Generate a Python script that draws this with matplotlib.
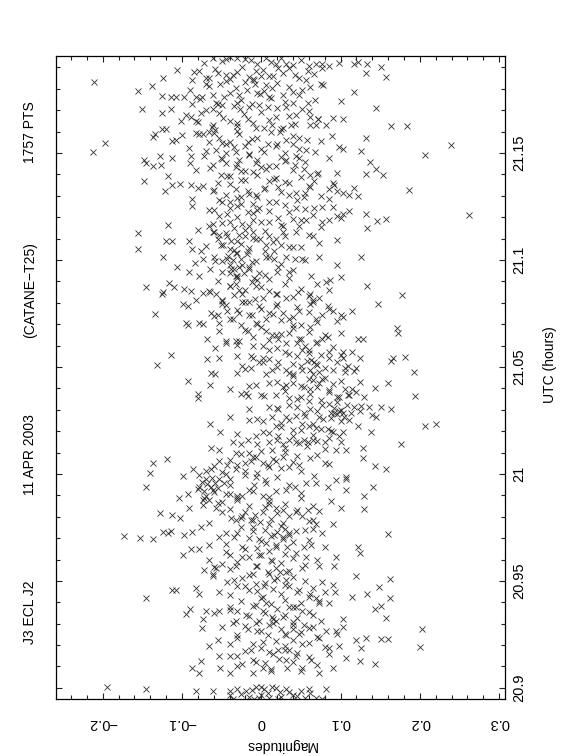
import matplotlib
matplotlib.use("Agg")
import matplotlib.pyplot as plt
from matplotlib import font_manager
from matplotlib.ticker import MultipleLocator

# J3 ECL J2 light curve, 11 APR 2003 (CATANE-T25), 1757 pts.
# Page is a landscape PGPLOT plot turned 90 degrees: UTC runs upward.

utc = [
    21.1921, 21.1946, 21.1941, 21.1946, 21.1937, 21.1946, 21.1918, 21.1914, 21.1933, 21.1918,
    21.1914, 21.1908, 21.1921, 21.1914, 21.1927, 21.1914, 21.1902, 21.1883, 21.1889, 21.1875,
    21.1879, 21.1856, 21.1860, 21.1860, 21.1898, 21.1864, 21.1883, 21.1898, 21.1875, 21.1850,
    21.1864, 21.1902, 21.1883, 21.1898,
    21.1831, 21.1789, 21.1812, 21.1850, 21.1768, 21.1764, 21.1760, 21.1764, 21.1841, 21.1760,
    21.1754, 21.1821, 21.1773, 21.1825, 21.1764, 21.1802, 21.1773, 21.1831, 21.1825, 21.1779,
    21.1818, 21.1806, 21.1773, 21.1787, 21.1793, 21.1841, 21.1825, 21.1818, 21.1744, 21.1787,
    21.1710, 21.1856, 21.1844, 21.1841, 21.1735, 21.1735, 21.1764, 21.1735, 21.1735,
    21.1706, 21.1687, 21.1706, 21.1652, 21.1668, 21.1648, 21.1687, 21.1706, 21.1687, 21.1648,
    21.1706, 21.1716, 21.1725, 21.1716, 21.1668, 21.1716, 21.1677, 21.1706, 21.1668, 21.1658,
    21.1664, 21.1658, 21.1658, 21.1729, 21.1725, 21.1629, 21.1639, 21.1619, 21.1629, 21.1619,
    21.1629, 21.1629, 21.1629, 21.1629,
    21.1504, 21.1548, 21.1575, 21.1587, 21.1614, 21.1614, 21.1556, 21.1562, 21.1523, 21.1485,
    21.1594, 21.1591, 21.1552, 21.1610, 21.1571, 21.1543, 21.1552, 21.1591, 21.1552, 21.1571,
    21.1543, 21.1600, 21.1562, 21.1543, 21.1571, 21.1514, 21.1504, 21.1581, 21.1529, 21.1518,
    21.1510, 21.1571, 21.1625, 21.1625, 21.1537, 21.1491, 21.1504, 21.1494, 21.1504, 21.1533,
    21.1514, 21.1600,
    21.1466, 21.1452, 21.1441, 21.1446, 21.1485, 21.1475, 21.1421, 21.1485, 21.1446, 21.1475,
    21.1452, 21.1394, 21.1437, 21.1466, 21.1418, 21.1452, 21.1398, 21.1427, 21.1441, 21.1466,
    21.1446, 21.1475, 21.1427, 21.1398, 21.1408, 21.1408, 21.1402, 21.1456, 21.1427, 21.1398,
    21.1369, 21.1394, 21.1398, 21.1485, 21.1379, 21.1466,
    21.1321, 21.1350, 21.1356, 21.1350, 21.1287, 21.1344, 21.1360, 21.1279, 21.1302, 21.1331,
    21.1293, 21.1321, 21.1302, 21.1331, 21.1369, 21.1341, 21.1302, 21.1312, 21.1293, 21.1369,
    21.1331, 21.1350, 21.1321, 21.1312, 21.1302, 21.1298, 21.1337, 21.1325, 21.1273, 21.1375,
    21.1321, 21.1273, 21.1264, 21.1360, 21.1341,
    21.1164, 21.1254, 21.1235, 21.1206, 21.1216, 21.1254, 21.1225, 21.1187, 21.1235, 21.1241,
    21.1177, 21.1196, 21.1225, 21.1244, 21.1158, 21.1241, 21.1177, 21.1248, 21.1187, 21.1196,
    21.1216, 21.1229, 21.1216, 21.1152, 21.1183, 21.1193, 21.1212, 21.1168, 21.1177, 21.1168,
    21.1158, 21.1187,
    21.1125, 21.1052, 21.1087, 21.1087, 21.1087, 21.1052, 21.1139, 21.1043, 21.1158, 21.1129,
    21.1119, 21.1071, 21.1110, 21.1052, 21.1091, 21.1110, 21.1043, 21.1129, 21.1100, 21.1071,
    21.1110, 21.1100, 21.1129, 21.1071, 21.1062, 21.1129, 21.1062, 21.1110, 21.1081, 21.1094,
    21.1043, 21.1033,
    21.1014, 21.0966, 21.0946, 21.0985, 21.0927, 21.1004, 21.0994, 21.0994, 21.1004, 21.0956,
    21.0956, 21.0927, 21.0975, 21.0966, 21.0994, 21.0937, 21.1014, 21.1004, 21.0966, 21.1014,
    21.0946, 21.1004, 21.1004, 21.0927, 21.1014, 21.0975, 21.0921, 21.1014, 21.0918, 21.0937,
    21.0875, 21.0841, 21.0850, 21.0894, 21.0875, 21.0864, 21.0856, 21.0812, 21.0844, 21.0856,
    21.0841, 21.0812, 21.0879, 21.0889, 21.0841, 21.0802, 21.0879, 21.0908, 21.0856, 21.0841,
    21.0821, 21.0918, 21.0850, 21.0841, 21.0821, 21.0812, 21.0898, 21.0908, 21.0879, 21.0837,
    21.0793, 21.0793, 21.0783, 21.0860, 21.0821,
    21.0750, 21.0706, 21.0696, 21.0706, 21.0702, 21.0754, 21.0744, 21.0706, 21.0764, 21.0725,
    21.0754, 21.0696, 21.0744, 21.0706, 21.0783, 21.0725, 21.0754, 21.0783, 21.0754, 21.0725,
    21.0696, 21.0764, 21.0793, 21.0802, 21.0725, 21.0744, 21.0783, 21.0764, 21.0735, 21.0741,
    21.0760, 21.0683, 21.0658, 21.0802, 21.0793,
    21.0556, 21.0629, 21.0591, 21.0668, 21.0610, 21.0620, 21.0620, 21.0668, 21.0600, 21.0600,
    21.0668, 21.0648, 21.0648, 21.0629, 21.0610, 21.0658, 21.0629, 21.0687, 21.0610, 21.0629,
    21.0639, 21.0571, 21.0568, 21.0571, 21.0633, 21.0629, 21.0552, 21.0552, 21.0581, 21.0562,
    21.0581,
    21.0510, 21.0433, 21.0537, 21.0471, 21.0466, 21.0543, 21.0471, 21.0504, 21.0495, 21.0523,
    21.0523, 21.0466, 21.0485, 21.0523, 21.0485, 21.0466, 21.0504, 21.0533, 21.0523, 21.0514,
    21.0485, 21.0475, 21.0485, 21.0543, 21.0495, 21.0479, 21.0495, 21.0543, 21.0529, 21.0543,
    21.0548, 21.0475, 21.0543,
    21.0375, 21.0356, 21.0414, 21.0398, 21.0375, 21.0379, 21.0364, 21.0418, 21.0364, 21.0427,
    21.0370, 21.0408, 21.0418, 21.0427, 21.0408, 21.0398, 21.0437, 21.0427, 21.0446, 21.0394,
    21.0360, 21.0368, 21.0370, 21.0398, 21.0360, 21.0402, 21.0427, 21.0364, 21.0360, 21.0356,
    21.0235, 21.0268, 21.0302, 21.0248, 21.0264, 21.0302, 21.0264, 21.0254, 21.0273, 21.0283,
    21.0302, 21.0264, 21.0321, 21.0283, 21.0287, 21.0293, 21.0283, 21.0264, 21.0254, 21.0312,
    21.0318, 21.0312, 21.0264, 21.0312, 21.0302, 21.0225, 21.0235, 21.0254, 21.0312, 21.0225,
    21.0321, 21.0235,
    21.0196, 21.0148, 21.0139, 21.0158, 21.0177, 21.0196, 21.0148, 21.0177, 21.0139, 21.0158,
    21.0148, 21.0158, 21.0148, 21.0158, 21.0216, 21.0148, 21.0210, 21.0202, 21.0110, 21.0177,
    21.0196, 21.0110, 21.0225, 21.0120, 21.0196, 21.0139, 21.0120, 21.0110, 21.0206,
    21.0052, 21.0004, 21.0068, 20.9991, 21.0023, 20.9995, 21.0014, 21.0023, 21.0062, 21.0010,
    21.0043, 21.0043, 21.0014, 21.0062, 21.0081, 21.0052, 21.0033, 21.0062, 21.0081, 21.0033,
    21.0043, 21.0075, 20.9991, 21.0052, 20.9985, 21.0075, 21.0037, 21.0023, 21.0100, 21.0100,
    21.0110,
    20.9937, 20.9889, 20.9908, 20.9937, 20.9918, 20.9898, 20.9879, 20.9927, 20.9975, 20.9956,
    20.9908, 20.9889, 20.9898, 20.9927, 20.9946, 20.9898, 20.9956, 20.9918, 20.9927, 20.9937,
    20.9889, 20.9956, 20.9956, 20.9941, 20.9971, 20.9975, 20.9927, 20.9898, 20.9937, 20.9975,
    20.9985,
    20.9818, 20.9806, 20.9793, 20.9841, 20.9856, 20.9773, 20.9841, 20.9821, 20.9793, 20.9783,
    20.9802, 20.9787, 20.9783, 20.9821, 20.9860, 20.9841, 20.9831, 20.9821, 20.9802, 20.9831,
    20.9783, 20.9825, 20.9875, 20.9841, 20.9837, 20.9764, 20.9764, 20.9870, 20.9879,
    20.9712, 20.9700, 20.9694, 20.9729, 20.9725, 20.9735, 20.9716, 20.9729, 20.9754, 20.9668,
    20.9706, 20.9725, 20.9706, 20.9754, 20.9735, 20.9696, 20.9677, 20.9716, 20.9706, 20.9725,
    20.9735, 20.9658, 20.9744, 20.9725, 20.9721, 20.9648, 20.9648, 20.9658, 20.9658,
    20.9619, 20.9552, 20.9600, 20.9562, 20.9581, 20.9619, 20.9571, 20.9610, 20.9571, 20.9619,
    20.9591, 20.9543, 20.9543, 20.9629, 20.9610, 20.9668, 20.9571, 20.9658, 20.9614, 20.9571,
    20.9658, 20.9629, 20.9562, 20.9533, 20.9533,
    20.9418, 20.9456, 20.9456, 20.9466, 20.9437, 20.9446, 20.9494, 20.9475, 20.9456, 20.9485,
    20.9475, 20.9504, 20.9504, 20.9475, 20.9456, 20.9437, 20.9418, 20.9494, 20.9446, 20.9427,
    20.9437, 20.9471, 20.9510, 20.9421, 20.9408, 20.9514, 20.9427, 20.9523, 20.9523,
    20.9345, 20.9369, 20.9321, 20.9360, 20.9360, 20.9379, 20.9360, 20.9341, 20.9389, 20.9360,
    20.9398, 20.9331, 20.9331, 20.9379, 20.9379, 20.9360, 20.9341, 20.9398, 20.9321, 20.9369,
    20.9383, 20.9325, 20.9312, 20.9312, 20.9306,
    20.9279, 20.9196, 20.9225, 20.9283, 20.9302, 20.9245, 20.9273, 20.9302, 20.9264, 20.9293,
    20.9312, 20.9245, 20.9273, 20.9254, 20.9293, 20.9283, 20.9235, 20.9264, 20.9264, 20.9283,
    20.9225, 20.9187, 20.9235, 20.9229, 20.9229, 20.9273, 20.9193, 20.9196, 20.9187, 20.9216,
    20.9206, 20.9206,
    20.9091, 20.9071, 20.9125, 20.9148, 20.9091, 20.9071, 20.9148, 20.9110, 20.9177, 20.9119,
    20.9091, 20.9168, 20.9177, 20.9129, 20.9148, 20.9091, 20.9129, 20.9071, 20.9094, 20.9139,
    20.9125, 20.9110, 20.9177, 20.9071, 20.9081,
    20.9004, 20.8994, 20.8985, 20.8985, 20.8966, 20.8950, 20.8994, 20.8985, 20.8956, 20.9004,
    20.8966, 20.8994, 20.8952, 20.9004, 20.8979, 20.8994, 20.8966, 20.8985, 20.8975, 20.8952,
    20.8994, 20.8950, 20.8950, 20.8950,
]

mag = [
    -0.072, -0.061, -0.045, -0.030, -0.013, 0.006, 0.019, 0.031, 0.050, 0.069,
    0.077, 0.086, 0.098, 0.117, 0.122, 0.134, 0.151, -0.078, -0.106, -0.055,
    -0.030, -0.016, 0.000, 0.010, 0.021, 0.042, 0.059, 0.077, 0.132, -0.066,
    -0.045, -0.024, -0.007, 0.035,
    -0.211, -0.156, -0.138, -0.124, -0.125, -0.114, -0.108, -0.097, -0.088, -0.082,
    -0.077, -0.070, -0.061, -0.052, -0.047, -0.032, -0.028, -0.021, -0.008, -0.005,
    0.006, 0.014, 0.027, 0.040, 0.052, 0.056, 0.075, 0.078, 0.101, 0.117,
    0.145, 0.157, -0.040, -0.009, 0.040, 0.059, 0.010, -0.057, -0.030,
    -0.151, -0.125, -0.114, -0.101, -0.089, -0.082, -0.076, -0.061, -0.053, -0.040,
    -0.027, -0.015, -0.003, 0.008, 0.019, 0.031, 0.044, 0.052, 0.061, 0.071,
    0.090, 0.103, -0.017, -0.087, -0.049, -0.061, -0.030, -0.007, 0.014, 0.027,
    0.037, 0.061, 0.069, 0.082,
    -0.212, -0.197, -0.137, -0.134, -0.125, -0.120, -0.112, -0.108, -0.091, -0.089,
    -0.082, -0.074, -0.066, -0.059, -0.053, -0.045, -0.040, -0.028, -0.017, -0.005,
    0.008, 0.023, 0.031, 0.040, 0.048, 0.056, 0.068, 0.089, 0.098, 0.103,
    0.126, 0.132, 0.164, 0.184, 0.239, 0.207, -0.032, -0.015, 0.004, 0.019,
    -0.057, -0.066,
    -0.148, -0.146, -0.136, -0.127, -0.128, -0.112, -0.082, -0.072, -0.061, -0.051,
    -0.045, -0.043, -0.032, -0.028, -0.021, -0.007, -0.005, 0.006, 0.019, 0.031,
    0.042, 0.048, 0.054, 0.061, 0.071, 0.096, 0.132, 0.137, 0.145, 0.154,
    -0.148, -0.118, -0.051, 0.044, 0.016, -0.005,
    -0.121, -0.112, -0.103, -0.089, -0.087, -0.074, -0.055, -0.053, -0.045, -0.032,
    -0.026, -0.017, -0.007, 0.004, 0.010, 0.021, 0.035, 0.044, 0.054, 0.067,
    0.086, 0.092, 0.096, 0.103, 0.111, 0.122, 0.117, 0.186, -0.049, -0.026,
    -0.061, 0.019, -0.011, 0.035, 0.061,
    -0.118, -0.087, -0.066, -0.053, -0.043, -0.030, -0.017, -0.011, -0.005, -0.003,
    0.010, 0.021, 0.035, 0.044, 0.048, 0.067, 0.077, 0.077, 0.086, 0.101,
    0.103, 0.111, 0.132, 0.134, 0.146, 0.157, 0.262, -0.061, -0.040, -0.024,
    0.027, 0.056,
    -0.155, -0.155, -0.120, -0.112, -0.091, -0.087, -0.080, -0.076, -0.066, -0.061,
    -0.053, -0.051, -0.043, -0.040, -0.030, -0.021, -0.017, -0.011, -0.007, 0.006,
    0.010, 0.019, 0.027, 0.025, 0.035, 0.044, 0.050, 0.065, 0.073, 0.095,
    0.016, -0.032,
    -0.124, -0.106, -0.091, -0.083, -0.078, -0.074, -0.059, -0.049, -0.043, -0.038,
    -0.034, -0.030, -0.024, -0.015, -0.007, -0.003, 0.006, 0.016, 0.021, 0.031,
    0.035, 0.042, 0.052, 0.063, 0.073, 0.095, 0.101, 0.126, -0.009, -0.040,
    -0.145, -0.125, -0.124, -0.116, -0.110, -0.097, -0.089, -0.082, -0.074, -0.066,
    -0.057, -0.049, -0.040, -0.032, -0.024, -0.015, -0.007, -0.005, 0.010, 0.019,
    0.031, 0.035, 0.046, 0.061, 0.073, 0.065, 0.082, 0.087, 0.134, 0.178,
    0.147, -0.099, -0.093, -0.028, 0.002,
    -0.134, -0.095, -0.093, -0.078, -0.074, -0.064, -0.055, -0.053, -0.043, -0.036,
    -0.028, -0.026, -0.015, -0.007, -0.003, 0.006, 0.010, 0.019, 0.027, 0.035,
    0.040, 0.048, 0.061, 0.065, 0.069, 0.077, 0.084, 0.090, 0.103, 0.101,
    0.114, 0.171, 0.172, -0.024, -0.049,
    -0.114, -0.068, -0.059, -0.053, -0.045, -0.032, -0.028, -0.017, -0.011, 0.002,
    0.006, 0.014, 0.019, 0.021, 0.031, 0.035, 0.048, 0.061, 0.069, 0.077,
    0.084, 0.086, 0.103, 0.115, 0.122, 0.128, -0.030, -0.013, 0.010, 0.035,
    0.052,
    -0.132, -0.093, -0.068, -0.064, -0.059, -0.053, -0.030, -0.024, -0.013, -0.003,
    0.002, 0.006, 0.014, 0.021, 0.031, 0.040, 0.050, 0.063, 0.067, 0.069,
    0.061, 0.073, 0.090, 0.103, 0.105, 0.117, 0.120, 0.124, 0.164, 0.166,
    0.181, 0.193, 0.002,
    -0.080, -0.080, -0.065, -0.040, -0.026, -0.019, -0.017, -0.007, 0.004, 0.010,
    0.019, 0.027, 0.031, 0.040, 0.054, 0.061, 0.065, 0.073, 0.077, 0.086,
    0.098, 0.109, 0.111, 0.115, 0.130, 0.143, 0.160, 0.194, 0.050, 0.035,
    -0.065, -0.040, -0.015, 0.002, 0.014, 0.021, 0.031, 0.035, 0.044, 0.054,
    0.061, 0.073, 0.077, 0.088, 0.092, 0.098, 0.103, 0.104, 0.111, 0.117,
    0.126, 0.136, 0.145, 0.151, 0.164, 0.206, 0.221, -0.015, 0.010, 0.019,
    0.035, 0.052,
    -0.052, -0.036, -0.026, -0.017, -0.007, 0.002, 0.010, 0.021, 0.027, 0.035,
    0.044, 0.054, 0.059, 0.065, 0.069, 0.080, 0.084, 0.088, 0.094, 0.098,
    0.103, 0.107, 0.122, 0.128, 0.138, 0.176, -0.064, -0.053, 0.040,
    -0.137, -0.141, -0.119, -0.099, -0.086, -0.078, -0.070, -0.064, -0.053, -0.049,
    -0.043, -0.030, -0.021, -0.013, -0.007, 0.002, 0.010, 0.019, 0.027, 0.035,
    0.048, 0.061, 0.067, 0.080, 0.107, 0.128, 0.143, 0.157, -0.032, -0.015,
    0.014,
    -0.146, -0.104, -0.093, -0.078, -0.072, -0.070, -0.066, -0.061, -0.053, -0.047,
    -0.040, -0.030, -0.024, -0.015, -0.009, 0.002, 0.006, 0.019, 0.031, 0.042,
    0.050, 0.056, 0.069, 0.084, 0.094, 0.107, 0.107, 0.130, 0.141, -0.040,
    -0.007,
    -0.128, -0.112, -0.103, -0.091, -0.074, -0.066, -0.057, -0.049, -0.038, -0.032,
    -0.024, -0.013, -0.011, 0.002, 0.010, 0.019, 0.027, 0.044, 0.052, 0.059,
    0.065, 0.073, 0.088, 0.101, 0.130, 0.090, 0.069, -0.049, -0.074,
    -0.173, -0.153, -0.137, -0.124, -0.118, -0.114, -0.097, -0.087, -0.076, -0.066,
    -0.053, -0.045, -0.034, -0.026, -0.011, -0.003, 0.006, 0.016, 0.027, 0.035,
    0.044, 0.054, 0.065, 0.077, 0.160, -0.089, -0.078, -0.024, 0.019,
    -0.099, -0.072, -0.066, -0.057, -0.049, -0.040, -0.032, -0.024, -0.007, -0.003,
    0.014, 0.023, 0.031, 0.044, 0.056, 0.063, 0.073, 0.080, 0.094, 0.092,
    0.122, 0.124, 0.052, -0.011, -0.061,
    -0.146, -0.112, -0.108, -0.082, -0.078, -0.053, -0.043, -0.030, -0.015, -0.007,
    0.004, 0.016, 0.031, 0.035, 0.048, 0.061, 0.069, 0.077, 0.093, 0.115,
    0.133, 0.149, 0.163, 0.163, 0.073, -0.024, 0.002, -0.061, 0.120,
    -0.095, -0.090, -0.074, -0.070, -0.053, -0.040, -0.030, -0.019, -0.007, 0.002,
    0.006, 0.014, 0.027, 0.035, 0.044, 0.052, 0.065, 0.073, 0.103, 0.143,
    0.151, 0.157, -0.032, -0.003, 0.040,
    -0.075, -0.066, -0.055, -0.049, -0.036, -0.030, -0.017, -0.007, 0.000, 0.010,
    0.019, 0.031, 0.040, 0.048, 0.054, 0.065, 0.073, 0.082, 0.094, 0.103,
    0.120, 0.126, 0.132, 0.151, 0.160, 0.203, 0.200, 0.098, 0.086, 0.002,
    -0.040, 0.052,
    -0.087, -0.078, -0.076, -0.053, -0.052, -0.040, -0.030, -0.024, -0.013, -0.007,
    0.002, 0.010, 0.021, 0.031, 0.044, 0.052, 0.063, 0.073, 0.090, 0.107,
    0.124, 0.144, 0.035, -0.011, 0.012,
    -0.194, -0.146, -0.082, -0.061, -0.040, -0.036, -0.030, -0.019, -0.015, -0.007,
    0.000, 0.004, 0.010, 0.014, 0.023, 0.031, 0.040, 0.050, 0.061, 0.069,
    0.082, 0.077, 0.021, -0.009,
]

# second reading of the dense core of the cloud: (UTC, magnitude)
core_pts = [
    (21.1950, -0.040), (21.1938, -0.020), (21.1925, 0.012), (21.1910, 0.040), (21.1895, -0.058),
    (21.1890, 0.002), (21.1872, 0.028), (21.1866, -0.036), (21.1852, 0.048), (21.1847, -0.010),
    (21.1930, -0.050), (21.1905, 0.060), (21.1880, -0.085), (21.1858, 0.015), (21.1915, -0.005),
    (21.1942, 0.025), (21.1870, 0.066), (21.1853, -0.070),
    (21.1837, -0.045), (21.1829, 0.020), (21.1815, -0.066), (21.1810, 0.035), (21.1797, -0.018),
    (21.1790, 0.003), (21.1783, -0.040), (21.1770, 0.048), (21.1762, -0.075), (21.1757, 0.012),
    (21.1748, -0.025), (21.1740, 0.030), (21.1731, -0.055), (21.1808, 0.062), (21.1795, -0.090),
    (21.1777, -0.002), (21.1750, 0.068), (21.1728, -0.012),
    (21.1722, -0.035), (21.1712, 0.020), (21.1700, -0.070), (21.1694, 0.000), (21.1683, -0.022),
    (21.1675, 0.035), (21.1662, -0.048), (21.1655, 0.010), (21.1645, -0.080), (21.1636, 0.042),
    (21.1625, -0.030), (21.1615, 0.003), (21.1698, 0.060), (21.1680, -0.095), (21.1660, 0.072),
    (21.1642, -0.010), (21.1622, -0.062), (21.1612, 0.025),
    (21.1605, -0.030), (21.1598, 0.012), (21.1588, -0.078), (21.1580, 0.040), (21.1566, -0.012),
    (21.1560, 0.058), (21.1549, -0.050), (21.1540, 0.020), (21.1530, -0.035), (21.1521, 0.000),
    (21.1511, -0.070), (21.1500, 0.030), (21.1583, -0.100), (21.1555, 0.075), (21.1535, -0.020),
    (21.1517, 0.048), (21.1498, -0.045), (21.1596, -0.060),
    (21.1490, -0.015), (21.1480, 0.025), (21.1470, -0.050), (21.1460, 0.055), (21.1450, -0.030),
    (21.1440, 0.010), (21.1432, -0.065), (21.1423, 0.040), (21.1412, -0.010), (21.1404, 0.070),
    (21.1392, -0.040), (21.1384, 0.018), (21.1478, 0.085), (21.1455, -0.090), (21.1435, 0.000),
    (21.1416, -0.025), (21.1388, 0.050), (21.1462, 0.030),
    (21.1376, -0.020), (21.1366, 0.030), (21.1355, -0.040), (21.1347, 0.060), (21.1338, 0.005),
    (21.1328, -0.060), (21.1318, 0.025), (21.1308, -0.015), (21.1298, 0.075), (21.1290, -0.030),
    (21.1281, 0.045), (21.1272, 0.010), (21.1360, 0.090), (21.1335, -0.080), (21.1315, 0.055),
    (21.1295, -0.005), (21.1285, 0.085), (21.1270, -0.040),
    (21.1262, -0.025), (21.1255, 0.030), (21.1245, -0.040), (21.1238, 0.055), (21.1228, 0.010),
    (21.1220, -0.010), (21.1210, 0.065), (21.1200, -0.030), (21.1192, 0.040), (21.1180, 0.000),
    (21.1172, -0.050), (21.1163, 0.025), (21.1155, 0.075), (21.1250, 0.090), (21.1232, -0.060),
    (21.1205, 0.095), (21.1185, 0.050), (21.1160, -0.015),
    (21.1148, -0.035), (21.1142, -0.020), (21.1135, 0.005), (21.1126, -0.045), (21.1118, -0.028),
    (21.1112, 0.030), (21.1104, -0.010), (21.1097, -0.055), (21.1090, -0.038), (21.1083, 0.015),
    (21.1076, -0.025), (21.1068, -0.048), (21.1060, 0.040), (21.1055, -0.015), (21.1047, -0.035),
    (21.1040, 0.005), (21.1115, 0.060), (21.1065, -0.070), (21.1098, -0.002), (21.1130, -0.060),
    (21.1033, -0.030), (21.1027, -0.018), (21.1020, -0.042), (21.1012, 0.010), (21.1006, -0.025),
    (21.0998, -0.036), (21.0990, -0.012), (21.0982, 0.025), (21.0975, -0.040), (21.0968, -0.028),
    (21.0960, -0.015), (21.0952, 0.040), (21.0945, -0.050), (21.0938, -0.022), (21.0930, 0.005),
    (21.0925, -0.032), (21.1000, 0.055), (21.0958, -0.065), (21.0942, 0.020), (21.1016, -0.060),
    (21.0916, -0.030), (21.0910, 0.010), (21.0902, -0.055), (21.0895, -0.012), (21.0887, 0.030),
    (21.0880, -0.040), (21.0872, 0.000), (21.0865, 0.050), (21.0858, -0.020), (21.0850, -0.065),
    (21.0842, 0.020), (21.0835, -0.035), (21.0826, 0.040), (21.0818, -0.008), (21.0810, -0.050),
    (21.0890, 0.070), (21.0860, 0.085), (21.0830, 0.060),
    (21.0802, -0.020), (21.0795, 0.020), (21.0788, -0.045), (21.0780, 0.045), (21.0772, 0.000),
    (21.0765, -0.030), (21.0757, 0.060), (21.0750, 0.015), (21.0742, -0.012), (21.0733, 0.040),
    (21.0726, -0.040), (21.0718, 0.025), (21.0710, 0.070), (21.0703, -0.005), (21.0695, 0.050),
    (21.0770, 0.085), (21.0738, -0.060), (21.0715, 0.095),
    (21.0686, 0.000), (21.0680, 0.040), (21.0672, -0.020), (21.0664, 0.060), (21.0656, 0.025),
    (21.0648, 0.080), (21.0640, -0.010), (21.0632, 0.050), (21.0625, 0.010), (21.0617, 0.070),
    (21.0610, 0.045), (21.0602, -0.030), (21.0595, 0.090), (21.0588, 0.020), (21.0580, 0.060),
    (21.0660, 0.100), (21.0620, -0.045), (21.0600, 0.055),
    (21.0572, 0.030), (21.0565, 0.060), (21.0558, 0.075), (21.0550, 0.045), (21.0544, 0.085),
    (21.0537, 0.010), (21.0530, 0.058), (21.0522, 0.095), (21.0515, 0.040), (21.0508, 0.070),
    (21.0500, 0.020), (21.0493, 0.080), (21.0486, 0.052), (21.0478, 0.105), (21.0470, 0.035),
    (21.0465, 0.065), (21.0540, -0.010), (21.0505, 0.110), (21.0490, -0.020), (21.0555, 0.100),
    (21.0456, 0.040), (21.0450, 0.080), (21.0442, 0.060), (21.0436, 0.100), (21.0428, 0.020),
    (21.0420, 0.090), (21.0412, 0.050), (21.0405, 0.070), (21.0397, 0.105), (21.0390, 0.030),
    (21.0382, 0.085), (21.0375, 0.062), (21.0367, 0.000), (21.0360, 0.095), (21.0352, 0.045),
    (21.0347, 0.075), (21.0430, 0.125), (21.0385, 0.120), (21.0410, -0.015),
    (21.0340, 0.060), (21.0334, 0.095), (21.0328, 0.085), (21.0320, 0.108), (21.0314, 0.045),
    (21.0306, 0.092), (21.0299, 0.100), (21.0292, 0.070), (21.0285, 0.113), (21.0278, 0.095),
    (21.0270, 0.055), (21.0262, 0.088), (21.0255, 0.078), (21.0248, 0.100), (21.0240, 0.025),
    (21.0233, 0.065), (21.0296, 0.125), (21.0275, 0.140), (21.0310, 0.020), (21.0258, -0.005),
    (21.0226, 0.060), (21.0219, 0.025), (21.0212, 0.075), (21.0205, 0.050), (21.0198, 0.090),
    (21.0190, 0.010), (21.0183, 0.065), (21.0176, 0.040), (21.0168, 0.085), (21.0160, 0.020),
    (21.0153, 0.070), (21.0145, 0.048), (21.0138, -0.005), (21.0130, 0.058), (21.0123, 0.030),
    (21.0116, 0.080), (21.0188, -0.030), (21.0150, 0.100),
    (21.0108, 0.000), (21.0101, 0.030), (21.0094, -0.025), (21.0086, 0.045), (21.0079, -0.010),
    (21.0072, 0.015), (21.0065, -0.040), (21.0058, 0.040), (21.0050, -0.020), (21.0043, 0.008),
    (21.0036, -0.060), (21.0029, 0.025), (21.0021, -0.032), (21.0014, 0.050), (21.0006, -0.005),
    (21.0000, -0.045), (21.0090, 0.070), (21.0047, 0.085),
    (20.9994, -0.020), (20.9988, 0.020), (20.9982, -0.062), (20.9976, -0.070), (20.9970, 0.005),
    (20.9964, -0.075), (20.9958, -0.058), (20.9952, -0.068), (20.9946, 0.035), (20.9940, -0.064),
    (20.9934, -0.055), (20.9928, -0.080), (20.9922, -0.010), (20.9916, -0.060), (20.9910, 0.050),
    (20.9904, -0.045), (20.9898, -0.030), (20.9892, 0.010), (20.9886, -0.072), (20.9950, -0.040),
    (20.9880, -0.030), (20.9873, 0.010), (20.9866, -0.055), (20.9859, 0.030), (20.9852, -0.015),
    (20.9845, 0.005), (20.9838, -0.040), (20.9830, 0.045), (20.9823, -0.020), (20.9816, 0.020),
    (20.9809, -0.008), (20.9802, 0.035), (20.9795, -0.025), (20.9788, 0.012), (20.9781, 0.060),
    (20.9774, -0.002), (20.9770, 0.028), (20.9850, 0.065),
    (20.9764, 0.010), (20.9757, 0.025), (20.9750, -0.010), (20.9743, 0.030), (20.9736, 0.005),
    (20.9729, 0.020), (20.9722, -0.030), (20.9715, 0.035), (20.9708, 0.012), (20.9701, -0.015),
    (20.9694, 0.028), (20.9687, 0.000), (20.9680, 0.040), (20.9673, -0.045), (20.9666, 0.018),
    (20.9659, 0.032), (20.9655, -0.005), (20.9740, 0.055), (20.9690, 0.060),
    (20.9648, -0.020), (20.9641, 0.010), (20.9634, -0.045), (20.9627, 0.030), (20.9620, 0.000),
    (20.9612, -0.015), (20.9605, 0.040), (20.9597, 0.012), (20.9590, -0.030), (20.9583, 0.025),
    (20.9576, 0.055), (20.9568, -0.005), (20.9561, 0.018), (20.9554, -0.040), (20.9547, 0.035),
    (20.9540, 0.008), (20.9600, 0.070), (20.9565, -0.060),
    (20.9534, 0.010), (20.9527, -0.015), (20.9520, 0.040), (20.9512, 0.020), (20.9505, -0.035),
    (20.9498, 0.055), (20.9490, 0.005), (20.9483, 0.030), (20.9476, -0.020), (20.9469, 0.065),
    (20.9461, 0.015), (20.9454, -0.005), (20.9447, 0.045), (20.9440, 0.025), (20.9432, -0.040),
    (20.9425, 0.060), (20.9480, 0.090), (20.9450, 0.080),
    (20.9418, 0.000), (20.9411, 0.030), (20.9404, -0.025), (20.9397, 0.050), (20.9390, 0.012),
    (20.9383, -0.010), (20.9376, 0.040), (20.9369, 0.020), (20.9362, -0.040), (20.9355, 0.060),
    (20.9348, 0.005), (20.9341, 0.030), (20.9334, -0.015), (20.9327, 0.045), (20.9320, 0.015),
    (20.9313, 0.075), (20.9395, 0.085), (20.9350, -0.060),
    (20.9303, 0.015), (20.9296, 0.040), (20.9289, -0.020), (20.9282, 0.060), (20.9275, 0.025),
    (20.9268, -0.005), (20.9261, 0.050), (20.9254, 0.030), (20.9247, 0.008), (20.9240, 0.070),
    (20.9233, -0.030), (20.9226, 0.040), (20.9219, 0.018), (20.9212, 0.060), (20.9205, -0.010),
    (20.9198, 0.030), (20.9192, 0.080), (20.9250, 0.095),
    (20.9186, 0.000), (20.9179, 0.030), (20.9172, -0.020), (20.9165, 0.045), (20.9158, 0.015),
    (20.9150, -0.040), (20.9143, 0.060), (20.9136, 0.022), (20.9129, -0.010), (20.9122, 0.040),
    (20.9115, 0.005), (20.9108, 0.070), (20.9101, -0.030), (20.9094, 0.032), (20.9087, 0.012),
    (20.9080, 0.050), (20.9160, 0.085),
    (20.9002, 0.000), (20.8998, 0.018), (20.8990, -0.012), (20.8982, 0.035), (20.8976, 0.008),
    (20.8970, -0.025), (20.8962, 0.045), (20.8958, 0.025), (20.8955, -0.003), (20.8951, 0.055),
    (20.8993, 0.060), (20.8986, -0.040),
]

n = min(len(utc), len(mag))
all_utc = utc[:n] + [p[0] for p in core_pts]
all_mag = mag[:n] + [p[1] for p in core_pts]

mag_lim = (-0.259, 0.3075)
utc_lim = (20.8948, 21.1955)

avail = {f.name for f in font_manager.fontManager.ttflist}
fam = "Liberation Sans Narrow" if "Liberation Sans Narrow" in avail else "Liberation Sans"
plt.rcParams["font.family"] = [fam, "DejaVu Sans"]

fig = plt.figure(figsize=(5.62, 7.56), dpi=100)
ax = fig.add_axes([0.0996, 0.0754, 0.799, 0.8509])

ax.plot(all_mag, all_utc, ls="none", marker="x", ms=3.8, mew=0.6, color="#303030")

ax.set_xlim(*mag_lim)
ax.set_ylim(*utc_lim)

ax.xaxis.set_major_locator(MultipleLocator(0.1))
ax.xaxis.set_minor_locator(MultipleLocator(0.02))
ax.yaxis.set_major_locator(MultipleLocator(0.05))
ax.yaxis.set_minor_locator(MultipleLocator(0.01))
ax.tick_params(which="both", direction="in", top=True, right=True,
               left=True, bottom=True, labelleft=False, labelright=True,
               width=0.8, color="#222222")
ax.tick_params(which="major", length=4.5)
ax.tick_params(which="minor", length=2.6)
ax.tick_params(axis="x", labelsize=10.5, labelrotation=180, pad=12)
ax.tick_params(axis="y", labelsize=10.5, labelrotation=90, pad=5)

ax.xaxis.set_major_formatter(lambda v, p: "0" if abs(v) < 1e-9 else f"{v:g}".replace("-", "\u2212"))
ax.yaxis.set_major_formatter(lambda v, p: f"{v:g}")
for lab in ax.get_yticklabels():
    lab.set_va("center")

for s in ax.spines.values():
    s.set_linewidth(0.9)

fig.text(0.5 * (0.0996 + 0.8986), 1 - 745 / 756, "Magnitudes", rotation=180,
         ha="center", va="center", fontsize=10)
fig.text(550 / 562, 1 - 365 / 756, "UTC (hours)", rotation=90,
         ha="center", va="center", fontsize=10)

# title pieces, written along the left edge
title_parts = ["J3 ECL J2", "11 APR 2003", "(CATANE\u2212T25)", "1757 PTS"]
title_y = [612, 455, 290, 132]
for txt, yy in zip(title_parts, title_y):
    fig.text(30 / 562, 1 - yy / 756, txt, rotation=90, ha="center",
             va="center", fontsize=10)

fig.savefig("out.png", dpi=100)
